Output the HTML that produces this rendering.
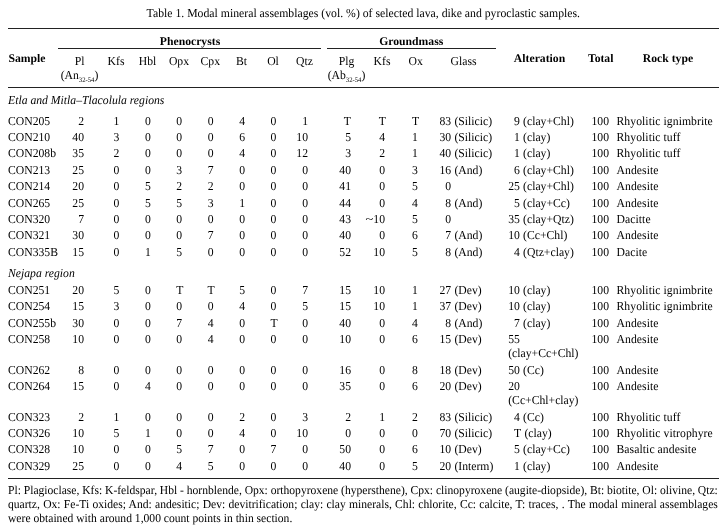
<!DOCTYPE html>
<html><head><meta charset="utf-8"><title>Table 1</title>
<style>
html,body{margin:0;padding:0;background:#fff;}
body{width:722px;height:526px;position:relative;overflow:hidden;font-family:"Liberation Serif",serif;font-size:11.7px;color:#000;text-rendering:geometricPrecision;}
.t{position:absolute;white-space:nowrap;line-height:13px;height:13px;transform-origin:0 10px;transform:scaleY(1.04);}
.l{position:absolute;height:1px;background:#222;}
</style></head><body>
<div class="l" style="left:8.0px;width:711.0px;top:28px"></div>
<div class="l" style="left:58.0px;width:263.0px;top:48px"></div>
<div class="l" style="left:327.0px;width:168.6px;top:48px"></div>
<div class="l" style="left:8.0px;width:711.0px;top:87px"></div>
<div class="l" style="left:8.0px;width:711.0px;top:478px"></div>
<div class="t" style="top:115px;left:8.0px;">CON205</div>
<div class="t" style="top:115px;right:638.0px;">2</div>
<div class="t" style="top:115px;left:116.3px;transform:translateX(-50%) scaleY(1.04);">1</div>
<div class="t" style="top:115px;left:147.8px;transform:translateX(-50%) scaleY(1.04);">0</div>
<div class="t" style="top:115px;left:179.2px;transform:translateX(-50%) scaleY(1.04);">0</div>
<div class="t" style="top:115px;left:210.6px;transform:translateX(-50%) scaleY(1.04);">0</div>
<div class="t" style="top:115px;left:242.1px;transform:translateX(-50%) scaleY(1.04);">4</div>
<div class="t" style="top:115px;left:273.5px;transform:translateX(-50%) scaleY(1.04);">0</div>
<div class="t" style="top:115px;right:414.0px;">1</div>
<div class="t" style="top:115px;right:371.0px;">T</div>
<div class="t" style="top:115px;right:336.0px;">T</div>
<div class="t" style="top:115px;left:415.6px;transform:translateX(-50%) scaleY(1.04);">T</div>
<div class="t" style="top:115px;right:270.8px;">83</div>
<div class="t" style="top:115px;left:454.4px;">(Silicic)</div>
<div class="t" style="top:115px;right:202.1px;">9</div>
<div class="t" style="top:115px;left:523.1px;">(clay+Chl)</div>
<div class="t" style="top:115px;right:113.0px;">100</div>
<div class="t" style="top:115px;left:616.5px;letter-spacing:0.06px;">Rhyolitic ignimbrite</div>
<div class="t" style="top:131px;left:8.0px;">CON210</div>
<div class="t" style="top:131px;right:638.0px;">40</div>
<div class="t" style="top:131px;left:116.3px;transform:translateX(-50%) scaleY(1.04);">3</div>
<div class="t" style="top:131px;left:147.8px;transform:translateX(-50%) scaleY(1.04);">0</div>
<div class="t" style="top:131px;left:179.2px;transform:translateX(-50%) scaleY(1.04);">0</div>
<div class="t" style="top:131px;left:210.6px;transform:translateX(-50%) scaleY(1.04);">0</div>
<div class="t" style="top:131px;left:242.1px;transform:translateX(-50%) scaleY(1.04);">6</div>
<div class="t" style="top:131px;left:273.5px;transform:translateX(-50%) scaleY(1.04);">0</div>
<div class="t" style="top:131px;right:414.0px;">10</div>
<div class="t" style="top:131px;right:371.0px;">5</div>
<div class="t" style="top:131px;right:337.0px;">4</div>
<div class="t" style="top:131px;left:415.0px;transform:translateX(-50%) scaleY(1.04);">1</div>
<div class="t" style="top:131px;right:270.8px;">30</div>
<div class="t" style="top:131px;left:454.4px;">(Silicic)</div>
<div class="t" style="top:131px;right:202.1px;">1</div>
<div class="t" style="top:131px;left:523.1px;">(clay)</div>
<div class="t" style="top:131px;right:113.0px;">100</div>
<div class="t" style="top:131px;left:616.5px;letter-spacing:0.06px;">Rhyolitic tuff</div>
<div class="t" style="top:147px;left:8.0px;">CON208b</div>
<div class="t" style="top:147px;right:638.0px;">35</div>
<div class="t" style="top:147px;left:116.3px;transform:translateX(-50%) scaleY(1.04);">2</div>
<div class="t" style="top:147px;left:147.8px;transform:translateX(-50%) scaleY(1.04);">0</div>
<div class="t" style="top:147px;left:179.2px;transform:translateX(-50%) scaleY(1.04);">0</div>
<div class="t" style="top:147px;left:210.6px;transform:translateX(-50%) scaleY(1.04);">0</div>
<div class="t" style="top:147px;left:242.1px;transform:translateX(-50%) scaleY(1.04);">4</div>
<div class="t" style="top:147px;left:273.5px;transform:translateX(-50%) scaleY(1.04);">0</div>
<div class="t" style="top:147px;right:414.0px;">12</div>
<div class="t" style="top:147px;right:371.0px;">3</div>
<div class="t" style="top:147px;right:337.0px;">2</div>
<div class="t" style="top:147px;left:415.0px;transform:translateX(-50%) scaleY(1.04);">1</div>
<div class="t" style="top:147px;right:270.8px;">40</div>
<div class="t" style="top:147px;left:454.4px;">(Silicic)</div>
<div class="t" style="top:147px;right:202.1px;">1</div>
<div class="t" style="top:147px;left:523.1px;">(clay)</div>
<div class="t" style="top:147px;right:113.0px;">100</div>
<div class="t" style="top:147px;left:616.5px;letter-spacing:0.06px;">Rhyolitic tuff</div>
<div class="t" style="top:164px;left:8.0px;">CON213</div>
<div class="t" style="top:164px;right:638.0px;">25</div>
<div class="t" style="top:164px;left:116.3px;transform:translateX(-50%) scaleY(1.04);">0</div>
<div class="t" style="top:164px;left:147.8px;transform:translateX(-50%) scaleY(1.04);">0</div>
<div class="t" style="top:164px;left:179.2px;transform:translateX(-50%) scaleY(1.04);">3</div>
<div class="t" style="top:164px;left:210.6px;transform:translateX(-50%) scaleY(1.04);">7</div>
<div class="t" style="top:164px;left:242.1px;transform:translateX(-50%) scaleY(1.04);">0</div>
<div class="t" style="top:164px;left:273.5px;transform:translateX(-50%) scaleY(1.04);">0</div>
<div class="t" style="top:164px;right:414.0px;">0</div>
<div class="t" style="top:164px;right:371.0px;">40</div>
<div class="t" style="top:164px;right:337.0px;">0</div>
<div class="t" style="top:164px;left:415.0px;transform:translateX(-50%) scaleY(1.04);">3</div>
<div class="t" style="top:164px;right:270.8px;">16</div>
<div class="t" style="top:164px;left:454.4px;">(And)</div>
<div class="t" style="top:164px;right:202.1px;">6</div>
<div class="t" style="top:164px;left:523.1px;">(clay+Chl)</div>
<div class="t" style="top:164px;right:113.0px;">100</div>
<div class="t" style="top:164px;left:616.5px;letter-spacing:0.06px;">Andesite</div>
<div class="t" style="top:180px;left:8.0px;">CON214</div>
<div class="t" style="top:180px;right:638.0px;">20</div>
<div class="t" style="top:180px;left:116.3px;transform:translateX(-50%) scaleY(1.04);">0</div>
<div class="t" style="top:180px;left:147.8px;transform:translateX(-50%) scaleY(1.04);">5</div>
<div class="t" style="top:180px;left:179.2px;transform:translateX(-50%) scaleY(1.04);">2</div>
<div class="t" style="top:180px;left:210.6px;transform:translateX(-50%) scaleY(1.04);">2</div>
<div class="t" style="top:180px;left:242.1px;transform:translateX(-50%) scaleY(1.04);">0</div>
<div class="t" style="top:180px;left:273.5px;transform:translateX(-50%) scaleY(1.04);">0</div>
<div class="t" style="top:180px;right:414.0px;">0</div>
<div class="t" style="top:180px;right:371.0px;">41</div>
<div class="t" style="top:180px;right:337.0px;">0</div>
<div class="t" style="top:180px;left:415.0px;transform:translateX(-50%) scaleY(1.04);">5</div>
<div class="t" style="top:180px;right:270.8px;">0</div>
<div class="t" style="top:180px;right:202.1px;">25</div>
<div class="t" style="top:180px;left:523.1px;">(clay+Chl)</div>
<div class="t" style="top:180px;right:113.0px;">100</div>
<div class="t" style="top:180px;left:616.5px;letter-spacing:0.06px;">Andesite</div>
<div class="t" style="top:197px;left:8.0px;">CON265</div>
<div class="t" style="top:197px;right:638.0px;">25</div>
<div class="t" style="top:197px;left:116.3px;transform:translateX(-50%) scaleY(1.04);">0</div>
<div class="t" style="top:197px;left:147.8px;transform:translateX(-50%) scaleY(1.04);">5</div>
<div class="t" style="top:197px;left:179.2px;transform:translateX(-50%) scaleY(1.04);">5</div>
<div class="t" style="top:197px;left:210.6px;transform:translateX(-50%) scaleY(1.04);">3</div>
<div class="t" style="top:197px;left:242.1px;transform:translateX(-50%) scaleY(1.04);">1</div>
<div class="t" style="top:197px;left:273.5px;transform:translateX(-50%) scaleY(1.04);">0</div>
<div class="t" style="top:197px;right:414.0px;">0</div>
<div class="t" style="top:197px;right:371.0px;">44</div>
<div class="t" style="top:197px;right:337.0px;">0</div>
<div class="t" style="top:197px;left:415.0px;transform:translateX(-50%) scaleY(1.04);">4</div>
<div class="t" style="top:197px;right:270.8px;">8</div>
<div class="t" style="top:197px;left:454.4px;">(And)</div>
<div class="t" style="top:197px;right:202.1px;">5</div>
<div class="t" style="top:197px;left:523.1px;">(clay+Cc)</div>
<div class="t" style="top:197px;right:113.0px;">100</div>
<div class="t" style="top:197px;left:616.5px;letter-spacing:0.06px;">Andesite</div>
<div class="t" style="top:213px;left:8.0px;">CON320</div>
<div class="t" style="top:213px;right:638.0px;">7</div>
<div class="t" style="top:213px;left:116.3px;transform:translateX(-50%) scaleY(1.04);">0</div>
<div class="t" style="top:213px;left:147.8px;transform:translateX(-50%) scaleY(1.04);">0</div>
<div class="t" style="top:213px;left:179.2px;transform:translateX(-50%) scaleY(1.04);">0</div>
<div class="t" style="top:213px;left:210.6px;transform:translateX(-50%) scaleY(1.04);">0</div>
<div class="t" style="top:213px;left:242.1px;transform:translateX(-50%) scaleY(1.04);">0</div>
<div class="t" style="top:213px;left:273.5px;transform:translateX(-50%) scaleY(1.04);">0</div>
<div class="t" style="top:213px;right:414.0px;">0</div>
<div class="t" style="top:213px;right:371.0px;">43</div>
<div class="t" style="top:213px;right:337.0px;"><span style='display:inline-block;transform:scaleX(1.22);transform-origin:100% 50%'>~</span>10</div>
<div class="t" style="top:213px;left:415.0px;transform:translateX(-50%) scaleY(1.04);">5</div>
<div class="t" style="top:213px;right:270.8px;">0</div>
<div class="t" style="top:213px;right:202.1px;">35</div>
<div class="t" style="top:213px;left:523.1px;">(clay+Qtz)</div>
<div class="t" style="top:213px;right:113.0px;">100</div>
<div class="t" style="top:213px;left:616.5px;letter-spacing:0.06px;">Dacitte</div>
<div class="t" style="top:229px;left:8.0px;">CON321</div>
<div class="t" style="top:229px;right:638.0px;">30</div>
<div class="t" style="top:229px;left:116.3px;transform:translateX(-50%) scaleY(1.04);">0</div>
<div class="t" style="top:229px;left:147.8px;transform:translateX(-50%) scaleY(1.04);">0</div>
<div class="t" style="top:229px;left:179.2px;transform:translateX(-50%) scaleY(1.04);">0</div>
<div class="t" style="top:229px;left:210.6px;transform:translateX(-50%) scaleY(1.04);">7</div>
<div class="t" style="top:229px;left:242.1px;transform:translateX(-50%) scaleY(1.04);">0</div>
<div class="t" style="top:229px;left:273.5px;transform:translateX(-50%) scaleY(1.04);">0</div>
<div class="t" style="top:229px;right:414.0px;">0</div>
<div class="t" style="top:229px;right:371.0px;">40</div>
<div class="t" style="top:229px;right:337.0px;">0</div>
<div class="t" style="top:229px;left:415.0px;transform:translateX(-50%) scaleY(1.04);">6</div>
<div class="t" style="top:229px;right:270.8px;">7</div>
<div class="t" style="top:229px;left:454.4px;">(And)</div>
<div class="t" style="top:229px;right:202.1px;">10</div>
<div class="t" style="top:229px;left:523.1px;">(Cc+Chl)</div>
<div class="t" style="top:229px;right:113.0px;">100</div>
<div class="t" style="top:229px;left:616.5px;letter-spacing:0.06px;">Andesite</div>
<div class="t" style="top:246px;left:8.0px;">CON335B</div>
<div class="t" style="top:246px;right:638.0px;">15</div>
<div class="t" style="top:246px;left:116.3px;transform:translateX(-50%) scaleY(1.04);">0</div>
<div class="t" style="top:246px;left:147.8px;transform:translateX(-50%) scaleY(1.04);">1</div>
<div class="t" style="top:246px;left:179.2px;transform:translateX(-50%) scaleY(1.04);">5</div>
<div class="t" style="top:246px;left:210.6px;transform:translateX(-50%) scaleY(1.04);">0</div>
<div class="t" style="top:246px;left:242.1px;transform:translateX(-50%) scaleY(1.04);">0</div>
<div class="t" style="top:246px;left:273.5px;transform:translateX(-50%) scaleY(1.04);">0</div>
<div class="t" style="top:246px;right:414.0px;">0</div>
<div class="t" style="top:246px;right:371.0px;">52</div>
<div class="t" style="top:246px;right:337.0px;">10</div>
<div class="t" style="top:246px;left:415.0px;transform:translateX(-50%) scaleY(1.04);">5</div>
<div class="t" style="top:246px;right:270.8px;">8</div>
<div class="t" style="top:246px;left:454.4px;">(And)</div>
<div class="t" style="top:246px;right:202.1px;">4</div>
<div class="t" style="top:246px;left:523.1px;">(Qtz+clay)</div>
<div class="t" style="top:246px;right:113.0px;">100</div>
<div class="t" style="top:246px;left:616.5px;letter-spacing:0.06px;">Dacite</div>
<div class="t" style="top:284px;left:8.0px;">CON251</div>
<div class="t" style="top:284px;right:638.0px;">20</div>
<div class="t" style="top:284px;left:116.3px;transform:translateX(-50%) scaleY(1.04);">5</div>
<div class="t" style="top:284px;left:147.8px;transform:translateX(-50%) scaleY(1.04);">0</div>
<div class="t" style="top:284px;left:179.8px;transform:translateX(-50%) scaleY(1.04);">T</div>
<div class="t" style="top:284px;left:211.2px;transform:translateX(-50%) scaleY(1.04);">T</div>
<div class="t" style="top:284px;left:242.1px;transform:translateX(-50%) scaleY(1.04);">5</div>
<div class="t" style="top:284px;left:273.5px;transform:translateX(-50%) scaleY(1.04);">0</div>
<div class="t" style="top:284px;right:414.0px;">7</div>
<div class="t" style="top:284px;right:371.0px;">15</div>
<div class="t" style="top:284px;right:337.0px;">10</div>
<div class="t" style="top:284px;left:415.0px;transform:translateX(-50%) scaleY(1.04);">1</div>
<div class="t" style="top:284px;right:270.8px;">27</div>
<div class="t" style="top:284px;left:454.4px;">(Dev)</div>
<div class="t" style="top:284px;right:202.1px;">10</div>
<div class="t" style="top:284px;left:523.1px;">(clay)</div>
<div class="t" style="top:284px;right:113.0px;">100</div>
<div class="t" style="top:284px;left:616.5px;letter-spacing:0.06px;">Rhyolitic ignimbrite</div>
<div class="t" style="top:300px;left:8.0px;">CON254</div>
<div class="t" style="top:300px;right:638.0px;">15</div>
<div class="t" style="top:300px;left:116.3px;transform:translateX(-50%) scaleY(1.04);">3</div>
<div class="t" style="top:300px;left:147.8px;transform:translateX(-50%) scaleY(1.04);">0</div>
<div class="t" style="top:300px;left:179.2px;transform:translateX(-50%) scaleY(1.04);">0</div>
<div class="t" style="top:300px;left:210.6px;transform:translateX(-50%) scaleY(1.04);">0</div>
<div class="t" style="top:300px;left:242.1px;transform:translateX(-50%) scaleY(1.04);">4</div>
<div class="t" style="top:300px;left:273.5px;transform:translateX(-50%) scaleY(1.04);">0</div>
<div class="t" style="top:300px;right:414.0px;">5</div>
<div class="t" style="top:300px;right:371.0px;">15</div>
<div class="t" style="top:300px;right:337.0px;">10</div>
<div class="t" style="top:300px;left:415.0px;transform:translateX(-50%) scaleY(1.04);">1</div>
<div class="t" style="top:300px;right:270.8px;">37</div>
<div class="t" style="top:300px;left:454.4px;">(Dev)</div>
<div class="t" style="top:300px;right:202.1px;">10</div>
<div class="t" style="top:300px;left:523.1px;">(clay)</div>
<div class="t" style="top:300px;right:113.0px;">100</div>
<div class="t" style="top:300px;left:616.5px;letter-spacing:0.06px;">Rhyolitic ignimbrite</div>
<div class="t" style="top:317px;left:8.0px;">CON255b</div>
<div class="t" style="top:317px;right:638.0px;">30</div>
<div class="t" style="top:317px;left:116.3px;transform:translateX(-50%) scaleY(1.04);">0</div>
<div class="t" style="top:317px;left:147.8px;transform:translateX(-50%) scaleY(1.04);">0</div>
<div class="t" style="top:317px;left:179.2px;transform:translateX(-50%) scaleY(1.04);">7</div>
<div class="t" style="top:317px;left:210.6px;transform:translateX(-50%) scaleY(1.04);">4</div>
<div class="t" style="top:317px;left:242.1px;transform:translateX(-50%) scaleY(1.04);">0</div>
<div class="t" style="top:317px;left:274.1px;transform:translateX(-50%) scaleY(1.04);">T</div>
<div class="t" style="top:317px;right:414.0px;">0</div>
<div class="t" style="top:317px;right:371.0px;">40</div>
<div class="t" style="top:317px;right:337.0px;">0</div>
<div class="t" style="top:317px;left:415.0px;transform:translateX(-50%) scaleY(1.04);">4</div>
<div class="t" style="top:317px;right:270.8px;">8</div>
<div class="t" style="top:317px;left:454.4px;">(And)</div>
<div class="t" style="top:317px;right:202.1px;">7</div>
<div class="t" style="top:317px;left:523.1px;">(clay)</div>
<div class="t" style="top:317px;right:113.0px;">100</div>
<div class="t" style="top:317px;left:616.5px;letter-spacing:0.06px;">Andesite</div>
<div class="t" style="top:333px;left:8.0px;">CON258</div>
<div class="t" style="top:333px;right:638.0px;">10</div>
<div class="t" style="top:333px;left:116.3px;transform:translateX(-50%) scaleY(1.04);">0</div>
<div class="t" style="top:333px;left:147.8px;transform:translateX(-50%) scaleY(1.04);">0</div>
<div class="t" style="top:333px;left:179.2px;transform:translateX(-50%) scaleY(1.04);">0</div>
<div class="t" style="top:333px;left:210.6px;transform:translateX(-50%) scaleY(1.04);">4</div>
<div class="t" style="top:333px;left:242.1px;transform:translateX(-50%) scaleY(1.04);">0</div>
<div class="t" style="top:333px;left:273.5px;transform:translateX(-50%) scaleY(1.04);">0</div>
<div class="t" style="top:333px;right:414.0px;">0</div>
<div class="t" style="top:333px;right:371.0px;">10</div>
<div class="t" style="top:333px;right:337.0px;">0</div>
<div class="t" style="top:333px;left:415.0px;transform:translateX(-50%) scaleY(1.04);">6</div>
<div class="t" style="top:333px;right:270.8px;">15</div>
<div class="t" style="top:333px;left:454.4px;">(Dev)</div>
<div class="t" style="top:333px;right:202.1px;">55</div>
<div class="t" style="top:347px;left:508.2px;">(clay+Cc+Chl)</div>
<div class="t" style="top:333px;right:113.0px;">100</div>
<div class="t" style="top:333px;left:616.5px;letter-spacing:0.06px;">Andesite</div>
<div class="t" style="top:364px;left:8.0px;">CON262</div>
<div class="t" style="top:364px;right:638.0px;">8</div>
<div class="t" style="top:364px;left:116.3px;transform:translateX(-50%) scaleY(1.04);">0</div>
<div class="t" style="top:364px;left:147.8px;transform:translateX(-50%) scaleY(1.04);">0</div>
<div class="t" style="top:364px;left:179.2px;transform:translateX(-50%) scaleY(1.04);">0</div>
<div class="t" style="top:364px;left:210.6px;transform:translateX(-50%) scaleY(1.04);">0</div>
<div class="t" style="top:364px;left:242.1px;transform:translateX(-50%) scaleY(1.04);">0</div>
<div class="t" style="top:364px;left:273.5px;transform:translateX(-50%) scaleY(1.04);">0</div>
<div class="t" style="top:364px;right:414.0px;">0</div>
<div class="t" style="top:364px;right:371.0px;">16</div>
<div class="t" style="top:364px;right:337.0px;">0</div>
<div class="t" style="top:364px;left:415.0px;transform:translateX(-50%) scaleY(1.04);">8</div>
<div class="t" style="top:364px;right:270.8px;">18</div>
<div class="t" style="top:364px;left:454.4px;">(Dev)</div>
<div class="t" style="top:364px;right:202.1px;">50</div>
<div class="t" style="top:364px;left:523.1px;">(Cc)</div>
<div class="t" style="top:364px;right:113.0px;">100</div>
<div class="t" style="top:364px;left:616.5px;letter-spacing:0.06px;">Andesite</div>
<div class="t" style="top:380px;left:8.0px;">CON264</div>
<div class="t" style="top:380px;right:638.0px;">15</div>
<div class="t" style="top:380px;left:116.3px;transform:translateX(-50%) scaleY(1.04);">0</div>
<div class="t" style="top:380px;left:147.8px;transform:translateX(-50%) scaleY(1.04);">4</div>
<div class="t" style="top:380px;left:179.2px;transform:translateX(-50%) scaleY(1.04);">0</div>
<div class="t" style="top:380px;left:210.6px;transform:translateX(-50%) scaleY(1.04);">0</div>
<div class="t" style="top:380px;left:242.1px;transform:translateX(-50%) scaleY(1.04);">0</div>
<div class="t" style="top:380px;left:273.5px;transform:translateX(-50%) scaleY(1.04);">0</div>
<div class="t" style="top:380px;right:414.0px;">0</div>
<div class="t" style="top:380px;right:371.0px;">35</div>
<div class="t" style="top:380px;right:337.0px;">0</div>
<div class="t" style="top:380px;left:415.0px;transform:translateX(-50%) scaleY(1.04);">6</div>
<div class="t" style="top:380px;right:270.8px;">20</div>
<div class="t" style="top:380px;left:454.4px;">(Dev)</div>
<div class="t" style="top:380px;right:202.1px;">20</div>
<div class="t" style="top:394px;left:508.2px;">(Cc+Chl+clay)</div>
<div class="t" style="top:380px;right:113.0px;">100</div>
<div class="t" style="top:380px;left:616.5px;letter-spacing:0.06px;">Andesite</div>
<div class="t" style="top:411px;left:8.0px;">CON323</div>
<div class="t" style="top:411px;right:638.0px;">2</div>
<div class="t" style="top:411px;left:116.3px;transform:translateX(-50%) scaleY(1.04);">1</div>
<div class="t" style="top:411px;left:147.8px;transform:translateX(-50%) scaleY(1.04);">0</div>
<div class="t" style="top:411px;left:179.2px;transform:translateX(-50%) scaleY(1.04);">0</div>
<div class="t" style="top:411px;left:210.6px;transform:translateX(-50%) scaleY(1.04);">0</div>
<div class="t" style="top:411px;left:242.1px;transform:translateX(-50%) scaleY(1.04);">2</div>
<div class="t" style="top:411px;left:273.5px;transform:translateX(-50%) scaleY(1.04);">0</div>
<div class="t" style="top:411px;right:414.0px;">3</div>
<div class="t" style="top:411px;right:371.0px;">2</div>
<div class="t" style="top:411px;right:337.0px;">1</div>
<div class="t" style="top:411px;left:415.0px;transform:translateX(-50%) scaleY(1.04);">2</div>
<div class="t" style="top:411px;right:270.8px;">83</div>
<div class="t" style="top:411px;left:454.4px;">(Silicic)</div>
<div class="t" style="top:411px;right:202.1px;">4</div>
<div class="t" style="top:411px;left:523.1px;">(Cc)</div>
<div class="t" style="top:411px;right:113.0px;">100</div>
<div class="t" style="top:411px;left:616.5px;letter-spacing:0.06px;">Rhyolitic tuff</div>
<div class="t" style="top:427px;left:8.0px;">CON326</div>
<div class="t" style="top:427px;right:638.0px;">10</div>
<div class="t" style="top:427px;left:116.3px;transform:translateX(-50%) scaleY(1.04);">5</div>
<div class="t" style="top:427px;left:147.8px;transform:translateX(-50%) scaleY(1.04);">1</div>
<div class="t" style="top:427px;left:179.2px;transform:translateX(-50%) scaleY(1.04);">0</div>
<div class="t" style="top:427px;left:210.6px;transform:translateX(-50%) scaleY(1.04);">0</div>
<div class="t" style="top:427px;left:242.1px;transform:translateX(-50%) scaleY(1.04);">4</div>
<div class="t" style="top:427px;left:273.5px;transform:translateX(-50%) scaleY(1.04);">0</div>
<div class="t" style="top:427px;right:414.0px;">10</div>
<div class="t" style="top:427px;right:371.0px;">0</div>
<div class="t" style="top:427px;right:337.0px;">0</div>
<div class="t" style="top:427px;left:415.0px;transform:translateX(-50%) scaleY(1.04);">0</div>
<div class="t" style="top:427px;right:270.8px;">70</div>
<div class="t" style="top:427px;left:454.4px;">(Silicic)</div>
<div class="t" style="top:427px;right:200.9px;">T</div>
<div class="t" style="top:427px;left:524.4px;">(clay)</div>
<div class="t" style="top:427px;right:113.0px;">100</div>
<div class="t" style="top:427px;left:616.5px;letter-spacing:0.06px;">Rhyolitic vitrophyre</div>
<div class="t" style="top:443px;left:8.0px;">CON328</div>
<div class="t" style="top:443px;right:638.0px;">10</div>
<div class="t" style="top:443px;left:116.3px;transform:translateX(-50%) scaleY(1.04);">0</div>
<div class="t" style="top:443px;left:147.8px;transform:translateX(-50%) scaleY(1.04);">0</div>
<div class="t" style="top:443px;left:179.2px;transform:translateX(-50%) scaleY(1.04);">5</div>
<div class="t" style="top:443px;left:210.6px;transform:translateX(-50%) scaleY(1.04);">7</div>
<div class="t" style="top:443px;left:242.1px;transform:translateX(-50%) scaleY(1.04);">0</div>
<div class="t" style="top:443px;left:273.5px;transform:translateX(-50%) scaleY(1.04);">7</div>
<div class="t" style="top:443px;right:414.0px;">0</div>
<div class="t" style="top:443px;right:371.0px;">50</div>
<div class="t" style="top:443px;right:337.0px;">0</div>
<div class="t" style="top:443px;left:415.0px;transform:translateX(-50%) scaleY(1.04);">6</div>
<div class="t" style="top:443px;right:270.8px;">10</div>
<div class="t" style="top:443px;left:454.4px;">(Dev)</div>
<div class="t" style="top:443px;right:202.1px;">5</div>
<div class="t" style="top:443px;left:523.1px;">(clay+Cc)</div>
<div class="t" style="top:443px;right:113.0px;">100</div>
<div class="t" style="top:443px;left:616.5px;letter-spacing:0.06px;">Basaltic andesite</div>
<div class="t" style="top:460px;left:8.0px;">CON329</div>
<div class="t" style="top:460px;right:638.0px;">25</div>
<div class="t" style="top:460px;left:116.3px;transform:translateX(-50%) scaleY(1.04);">0</div>
<div class="t" style="top:460px;left:147.8px;transform:translateX(-50%) scaleY(1.04);">0</div>
<div class="t" style="top:460px;left:179.2px;transform:translateX(-50%) scaleY(1.04);">4</div>
<div class="t" style="top:460px;left:210.6px;transform:translateX(-50%) scaleY(1.04);">5</div>
<div class="t" style="top:460px;left:242.1px;transform:translateX(-50%) scaleY(1.04);">0</div>
<div class="t" style="top:460px;left:273.5px;transform:translateX(-50%) scaleY(1.04);">0</div>
<div class="t" style="top:460px;right:414.0px;">0</div>
<div class="t" style="top:460px;right:371.0px;">40</div>
<div class="t" style="top:460px;right:337.0px;">0</div>
<div class="t" style="top:460px;left:415.0px;transform:translateX(-50%) scaleY(1.04);">5</div>
<div class="t" style="top:460px;right:270.8px;">20</div>
<div class="t" style="top:460px;left:454.4px;">(Interm)</div>
<div class="t" style="top:460px;right:202.1px;">1</div>
<div class="t" style="top:460px;left:523.1px;">(clay)</div>
<div class="t" style="top:460px;right:113.0px;">100</div>
<div class="t" style="top:460px;left:616.5px;letter-spacing:0.06px;">Andesite</div>
<div class="t" style="top:7px;left:363.3px;transform:translateX(-50%) scaleY(1.04);font-size:11.75px;">Table 1. Modal mineral assemblages (vol. %) of selected lava, dike and pyroclastic samples.</div>
<div class="t" style="top:52px;left:8.4px;transform:none;font-weight:bold;-webkit-text-stroke:0;">Sample</div>
<div class="t" style="top:35px;left:190.0px;transform:translateX(-50%) scaleY(1.0);font-weight:bold;-webkit-text-stroke:0;">Phenocrysts</div>
<div class="t" style="top:35px;left:411.2px;transform:translateX(-50%) scaleY(1.0);font-weight:bold;-webkit-text-stroke:0;">Groundmass</div>
<div class="t" style="top:52px;left:539.5px;transform:translateX(-50%) scaleY(1.0);font-weight:bold;-webkit-text-stroke:0;">Alteration</div>
<div class="t" style="top:52px;left:600.7px;transform:translateX(-50%) scaleY(1.0);font-weight:bold;-webkit-text-stroke:0;">Total</div>
<div class="t" style="top:52px;left:668.0px;transform:translateX(-50%) scaleY(1.0);font-weight:bold;-webkit-text-stroke:0;">Rock type</div>
<div class="t" style="top:55px;left:79.5px;transform:translateX(-50%) scaleY(1.04);">Pl</div>
<div class="t" style="top:55px;left:116.0px;transform:translateX(-50%) scaleY(1.04);">Kfs</div>
<div class="t" style="top:55px;left:147.6px;transform:translateX(-50%) scaleY(1.04);">Hbl</div>
<div class="t" style="top:55px;left:179.0px;transform:translateX(-50%) scaleY(1.04);">Opx</div>
<div class="t" style="top:55px;left:210.3px;transform:translateX(-50%) scaleY(1.04);">Cpx</div>
<div class="t" style="top:55px;left:241.5px;transform:translateX(-50%) scaleY(1.04);">Bt</div>
<div class="t" style="top:55px;left:273.0px;transform:translateX(-50%) scaleY(1.04);">Ol</div>
<div class="t" style="top:55px;left:304.5px;transform:translateX(-50%) scaleY(1.04);">Qtz</div>
<div class="t" style="top:55px;left:346.5px;transform:translateX(-50%) scaleY(1.04);">Plg</div>
<div class="t" style="top:55px;left:382.0px;transform:translateX(-50%) scaleY(1.04);">Kfs</div>
<div class="t" style="top:55px;left:415.7px;transform:translateX(-50%) scaleY(1.04);">Ox</div>
<div class="t" style="top:55px;left:463.5px;transform:translateX(-50%) scaleY(1.04);">Glass</div>
<div class="t" style="top:69px;left:79.5px;transform:translateX(-50%) scaleY(1.04);">(An<span style="font-size:6.7px;position:relative;top:2.5px">32-54</span>)</div>
<div class="t" style="top:69px;left:346.5px;transform:translateX(-50%) scaleY(1.04);">(Ab<span style="font-size:6.7px;position:relative;top:2.5px">32-54</span>)</div>
<div class="t" style="top:94px;left:8.0px;font-style:italic;">Etla and Mitla–Tlacolula regions</div>
<div class="t" style="top:267px;left:8.0px;font-style:italic;">Nejapa region</div>
<div class="t" style="top:484px;left:8.0px;font-size:11.6px;word-spacing:-0.075px;">Pl: Plagioclase, Kfs: K-feldspar, Hbl - hornblende, Opx: orthopyroxene (hypersthene), Cpx: clinopyroxene (augite-diopside), Bt: biotite, Ol: olivine, Qtz:</div>
<div class="t" style="top:498px;left:8.0px;font-size:11.6px;word-spacing:0.37px;">quartz, Ox: Fe-Ti oxides; And: andesitic; Dev: devitrification; clay: clay minerals, Chl: chlorite, Cc: calcite, T: traces, . The modal mineral assemblages</div>
<div class="t" style="top:512px;left:8.0px;font-size:11.6px;">were obtained with around 1,000 count points in thin section.</div>
</body></html>
